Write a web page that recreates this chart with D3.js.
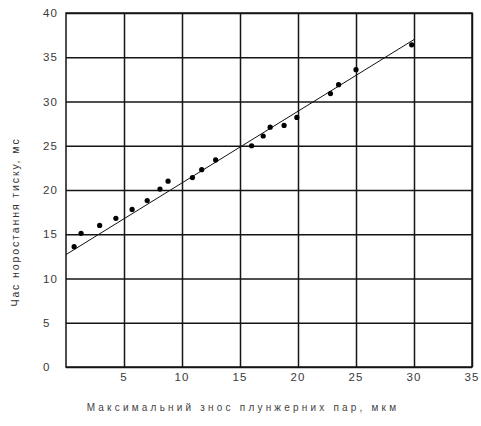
<!DOCTYPE html>
<html>
<head>
<meta charset="utf-8">
<script src="https://cdn.jsdelivr.net/npm/d3@7/dist/d3.min.js"></script>
<style>
  html, body { margin: 0; padding: 0; background: #fff; }
  svg { display: block; }
</style>
</head>
<body>
<svg id="chart" width="481" height="426"></svg>
<script>
// Measured wear of plunger pairs (µm) vs. pressure rise time (ms)
const wearX = [0.7, 1.3, 2.9, 4.3, 5.7, 7.0, 8.1, 8.8, 10.9, 11.7, 12.9, 16.0, 17.0, 17.6, 18.8, 19.9, 22.8, 23.5, 25.0, 29.8];
const riseTime = [13.6, 15.1, 16.0, 16.8, 17.8, 18.8, 20.1, 21.0, 21.4, 22.3, 23.4, 25.0, 26.1, 27.1, 27.3, 28.2, 30.9, 31.9, 33.6, 36.4];

// Linear trend endpoints
const trendX = [0, 30];
const trendY = [12.7, 37.0];

const xTicks = [5, 10, 15, 20, 25, 30, 35];
const yTicks = [0, 5, 10, 15, 20, 25, 30, 35, 40];

const xTitle = "Максимальний знос плунжерних пар, мкм";
const yTitle = "Час норостання тиску, мс";

const svg = d3.select("#chart");
const plotLeft = 66, plotRight = 472, plotTop = 13, plotBottom = 367;

const x = d3.scaleLinear().domain([0, 35]).range([plotLeft, plotRight]);
const y = d3.scaleLinear().domain([0, 40]).range([plotBottom, plotTop]);

const gridColor = "#151515";
const labelColor = "#3a3a3a";
const font = "Arial, 'Liberation Sans', sans-serif";

// Vertical grid lines
svg.append("g")
  .attr("transform", `translate(0,${plotBottom})`)
  .call(d3.axisBottom(x).tickValues(xTicks).tickSize(-(plotBottom - plotTop)).tickFormat(""))
  .call(g => g.select(".domain").remove())
  .call(g => g.selectAll("line").attr("stroke", gridColor).attr("stroke-width", 1.5));

// Horizontal grid lines
svg.append("g")
  .attr("transform", `translate(${plotLeft},0)`)
  .call(d3.axisLeft(y).tickValues(yTicks).tickSize(-(plotRight - plotLeft)).tickFormat(""))
  .call(g => g.select(".domain").remove())
  .call(g => g.selectAll("line").attr("stroke", gridColor).attr("stroke-width", 1.5));

// Plot frame
svg.append("rect")
  .attr("x", plotLeft).attr("y", plotTop)
  .attr("width", plotRight - plotLeft).attr("height", plotBottom - plotTop)
  .attr("fill", "none").attr("stroke", gridColor).attr("stroke-width", 1.5);

// X tick labels
svg.append("g").selectAll("text")
  .data(xTicks)
  .join("text")
  .attr("x", d => x(d))
  .attr("y", plotBottom + 14)
  .attr("text-anchor", "middle")
  .attr("font-family", font)
  .attr("font-size", 11.5)
  .attr("letter-spacing", 1)
  .attr("fill", labelColor)
  .text(d => d);

// Y tick labels
svg.append("g").selectAll("text")
  .data(yTicks)
  .join("text")
  .attr("x", 43)
  .attr("y", d => y(d) + 4)
  .attr("text-anchor", "start")
  .attr("font-family", font)
  .attr("font-size", 11.5)
  .attr("letter-spacing", 1)
  .attr("fill", labelColor)
  .text(d => d);

// Trend line
svg.append("path")
  .datum(d3.zip(trendX, trendY))
  .attr("fill", "none")
  .attr("stroke", "#111")
  .attr("stroke-width", 1)
  .attr("d", d3.line().x(d => x(d[0])).y(d => y(d[1])));

// Data points
svg.append("g").selectAll("circle")
  .data(d3.zip(wearX, riseTime))
  .join("circle")
  .attr("cx", d => x(d[0]))
  .attr("cy", d => y(d[1]))
  .attr("r", 2.6)
  .attr("fill", "#000");

// Axis titles
svg.append("text")
  .attr("x", 243)
  .attr("y", 411)
  .attr("text-anchor", "middle")
  .attr("font-family", font)
  .attr("font-size", 10)
  .attr("letter-spacing", 3.2)
  .attr("fill", "#444")
  .text(xTitle);

svg.append("text")
  .attr("transform", `translate(19,222) rotate(-90)`)
  .attr("text-anchor", "middle")
  .attr("font-family", font)
  .attr("font-size", 10.5)
  .attr("letter-spacing", 1.9)
  .attr("fill", "#333")
  .text(yTitle);
</script>
</body>
</html>
